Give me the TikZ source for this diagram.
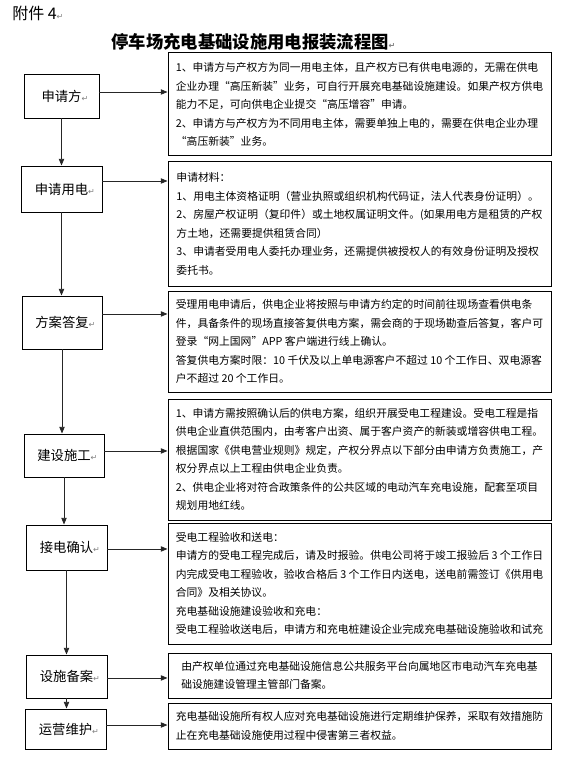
\documentclass[tikz,border=0pt]{standalone}
\usepackage{fontspec}
\setmainfont{Noto Sans CJK SC}
\newfontfamily\markfont{DejaVu Sans}
\usetikzlibrary{arrows.meta,positioning}
\newcommand{\retmark}{\rlap{\markfont\color{gray}\fontsize{6}{6}\selectfont ↵}}
\tikzset{
  stepbox/.style 2 args={rectangle,draw=black,line width=0.7pt,inner sep=0pt,
                         minimum width=#1*0.75pt,minimum height=#2*0.75pt,
                         font=\fontsize{10}{12}\selectfont},
  infobox/.style={rectangle,draw=black,line width=0.75pt,align=left,inner sep=0pt,
                  minimum width=287.25pt,minimum height=#1*0.75pt,
                  font=\fontsize{8.1}{13.9}\selectfont},
  arr/.style={-{Triangle[length=5pt,width=4pt]},line width=0.6pt,color=black!85}
}
\begin{document}
\begin{tikzpicture}[x=0.75pt,y=-0.75pt]
  \useasboundingbox (0,0) rectangle (573,759);

  % Heading
  \node[anchor=west,inner sep=0pt,font=\fontsize{12}{14}\selectfont] (annex) at (12,13)
      {附件 4\retmark};
  \node[inner sep=0pt,font=\fontsize{13}{15}\selectfont\bfseries] (title) at (250,42)
      {停车场充电基础设施用电报装流程图\retmark};

  % Steps
  \node[stepbox={75}{44}] (apply) at (61.5,96) {申请方\retmark};
  \node[stepbox={81}{46}] (request) at (61.5,189) {申请用电\retmark};
  \node[stepbox={80}{53}] (reply) at (62,322.5) {方案答复\retmark};
  \node[stepbox={80}{43}] (build) at (64,455.5) {建设施工\retmark};
  \node[stepbox={81}{45}] (connect) at (66.5,547.5) {接电确认\retmark};
  \node[stepbox={81}{43}] (record) at (66.5,676.5) {设施备案\retmark};
  \node[stepbox={81}{40}] (maintain) at (65.5,729) {运营维护\retmark};

  % Details
  \node[infobox=103] (applyinfo) at (359.5,104.5)
      {1、申请方与产权方为同一用电主体，且产权方已有供电电源的，无需在供电\\
       企业办理“高压新装”业务，可自行开展充电基础设施建设。如果产权方供电\\
       能力不足，可向供电企业提交“高压增容”申请。\\
       2、申请方与产权方为不同用电主体，需要单独上电的，需要在供电企业办理\\
       “高压新装”业务。};
  \node[infobox=124] (requestinfo) at (359.5,224)
      {申请材料：\\
       1、用电主体资格证明（营业执照或组织机构代码证，法人代表身份证明）。\\
       2、房屋产权证明（复印件）或土地权属证明文件。(如果用电方是租赁的产权\\
       方土地，还需要提供租赁合同）\\
       3、申请者受用电人委托办理业务，还需提供被授权人的有效身份证明及授权\\
       委托书。};
  \node[infobox=101] (replyinfo) at (359.5,341.5)
      {受理用电申请后，供电企业将按照与申请方约定的时间前往现场查看供电条\\
       件，具备条件的现场直接答复供电方案，需会商的于现场勘查后答复，客户可\\
       登录“网上国网”APP 客户端进行线上确认。\\
       答复供电方案时限：10 千伏及以上单电源客户不超过 10 个工作日、双电源客\\
       户不超过 20 个工作日。};
  \node[infobox=121] (buildinfo) at (359.5,459.5)
      {1、申请方需按照确认后的供电方案，组织开展受电工程建设。受电工程是指\\
       供电企业直供范围内，由考客户出资、属于客户资产的新装或增容供电工程。\\
       根据国家《供电营业规则》规定，产权分界点以下部分由申请方负责施工，产\\
       权分界点以上工程由供电企业负责。\\
       2、供电企业将对符合政策条件的公共区域的电动汽车充电设施，配套至项目\\
       规划用地红线。};
  \node[infobox=121] (connectinfo) at (359.5,583.5)
      {受电工程验收和送电：\\
       申请方的受电工程完成后，请及时报验。供电公司将于竣工报验后 3 个工作日\\
       内完成受电工程验收，验收合格后 3 个工作日内送电，送电前需签订《供用电\\
       合同》及相关协议。\\
       充电基础设施建设验收和充电：\\
       受电工程验收送电后，申请方和充电桩建设企业完成充电基础设施验收和试充};
  \node[infobox=45] (recordinfo) at (359.5,675.5)
      {由产权单位通过充电基础设施信息公共服务平台向属地区市电动汽车充电基\\
       础设施建设管理主管部门备案。};
  \node[infobox=46] (maintaininfo) at (359.5,726)
      {充电基础设施所有权人应对充电基础设施进行定期维护保养，采取有效措施防\\
       止在充电基础设施使用过程中侵害第三者权益。};

  % Flow
  \draw[arr] (apply.south) -- (apply.south |- request.north);
  \draw[arr] (request.south) -- (request.south |- reply.north);
  \draw[arr] (reply.south) -- (reply.south |- build.north);
  \draw[arr] (build.south) -- (build.south |- connect.north);
  \draw[arr] (connect.south) -- (connect.south |- record.north);
  \draw[arr] (record.south) -- (record.south |- maintain.north);

  % Step to detail
  \draw[arr] ([yshift=3pt]apply.east) -- ([yshift=3pt]apply.east -| applyinfo.west);
  \draw[arr] ([yshift=6pt]request.east) -- ([yshift=6pt]request.east -| requestinfo.west);
  \draw[arr] ([yshift=6.4pt]reply.east) -- ([yshift=6.4pt]reply.east -| replyinfo.west);
  \draw[arr] ([yshift=3.4pt]build.east) -- ([yshift=3.4pt]build.east -| buildinfo.west);
  \draw[arr] ([yshift=-1.1pt]connect.east) -- ([yshift=-1.1pt]connect.east -| connectinfo.west);
  \draw[arr] ([yshift=-1.1pt]record.east) -- ([yshift=-1.1pt]record.east -| recordinfo.west);
  \draw[arr] ([yshift=3pt]maintain.east) -- ([yshift=3pt]maintain.east -| maintaininfo.west);

\end{tikzpicture}
\end{document}
